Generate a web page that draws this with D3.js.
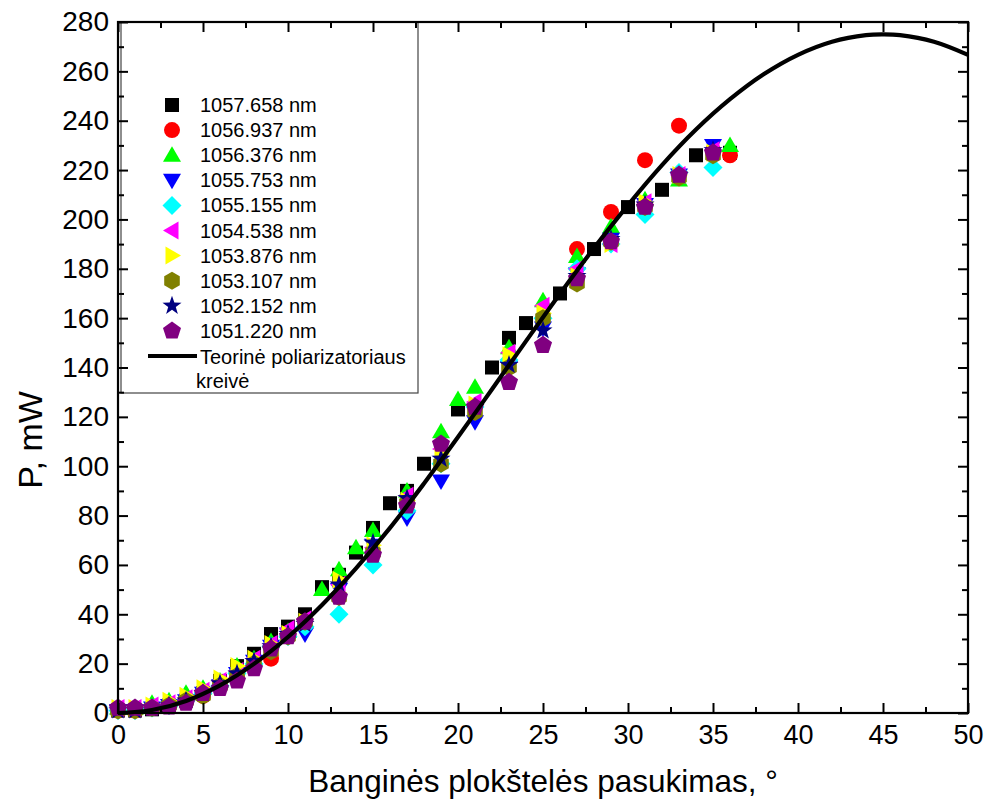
<!DOCTYPE html>
<html><head><meta charset="utf-8">
<script src="https://cdn.jsdelivr.net/npm/d3@7"></script>
<style>
html,body{margin:0;padding:0;background:#fff;}
svg{display:block;}
text{font-family:"Liberation Sans", Arial, sans-serif;fill:#000;}
</style></head><body>
<svg id="c" width="988" height="808"></svg>
<script>
const n = null;
const angles = [0,1,2,3,4,5,6,7,8,9,10,11,12,13,14,15,16,17,18,19,20,21,22,23,24,25,26,27,28,29,30,31,32,33,34,35,36];

const seriesNames = ["1057.658 nm","1056.937 nm","1056.376 nm","1055.753 nm","1055.155 nm","1054.538 nm","1053.876 nm","1053.107 nm","1052.152 nm","1051.220 nm"];
const seriesColors = ["#000000","#ff0000","#00ff00","#0000ff","#00ffff","#ff00ff","#ffff00","#808000","#000080","#800080"];
const seriesShapes = ["square","circle","triUp","triDown","diamond","triLeft","triRight","hexagon","star","pentagon"];

const s1057658 = [1,1,1.5,3,5,8,13,19,24,32,35,40,51,56,65,75,85,90,101,n,123,n,140,152,158,n,170,n,188,n,205,n,212,n,226,n,227];
const s1056937 = [1,1,2,3,5,7,11,15,19,22,n,n,n,n,n,n,n,n,n,n,n,n,n,n,n,n,n,188,n,203,n,224,n,238,n,228,226];
const s1056376 = [2,2,4,5,8,10,13,19,22,29,33,37,50,58,67,74,n,90,n,114,127,132,n,148,n,167,n,185,n,197,n,208,n,216,n,n,230];
const s1055753 = [1,1,2,3,5,8,11,16,21,27,32,32,n,50,n,68,n,79,n,94,n,118,n,140,n,156,n,178,n,192,n,206,n,218,n,230,n];
const s1055155 = [1,1,2,3,5,8,11,16,20,27,31,35,n,40,n,60,n,82,n,101,n,124,n,143,n,160,n,180,n,190,n,202,n,219,n,221,n];
const s1054538 = [2,2,3,4,6,9,13,17,22,28,34,38,n,52,n,67,n,88,n,107,n,126,n,146,n,165,n,180,n,190,n,207,n,218,n,228,n];
const s1053876 = [2,2,3,5,7,10,14,19,22,28,32,37,n,54,n,68,n,86,n,105,n,125,n,145,n,162,n,177,n,190,n,207,n,218,n,227,n];
const s1053107 = [1,1,2,3,5,7,11,15,20,25,31,37,n,47,n,65,n,85,n,101,n,122,n,140,n,160,n,174,n,191,n,205,n,217,n,226,n];
const s1052152 = [1,1,2,3,5,8,12,16,21,27,32,36,n,52,n,69,n,87,n,103,n,124,n,141,n,155,n,177,n,192,n,206,n,218,n,228,n];
const s1051220 = [2,2,2,2.5,4,8,10,13,18,26,31,37,n,47,n,64,n,84,n,109,n,124,n,134,n,149,n,176,n,191,n,205,n,218,n,227,n];
const seriesValues = [s1057658,s1056937,s1056376,s1055753,s1055155,s1054538,s1053876,s1053107,s1052152,s1051220];

const curveName = ["Teorinė poliarizatoriaus","kreivė"];
const curveAngles = [0,2,4,6,8,10,12,14,16,18,20,22,24,26,28,30,32,34,36,38,40,42,44,45,46,48,50];
const curveP = [0,1.2,4.9,11.2,19.9,30.8,43.8,58.6,75.0,93.0,111.8,131.2,150.7,169.9,188.4,205.8,222.0,236.4,248.7,258.9,266.7,272.0,274.7,275,274.7,272.0,266.7];

const xTicks = [0,5,10,15,20,25,30,35,40,45,50];
const xMinor = [2.5,7.5,12.5,17.5,22.5,27.5,32.5,37.5,42.5,47.5];
const yTicks = [0,20,40,60,80,100,120,140,160,180,200,220,240,260,280];
const yMinor = [10,30,50,70,90,110,130,150,170,190,210,230,250,270];
const xTitle = "Banginės plokštelės pasukimas, °";
const yTitle = "P, mW";

const L = 118, R = 968, T = 22, B = 713;
const svg = d3.select("#c");
const x = d3.scaleLinear().domain([0,50]).range([L,R]);
const y = d3.scaleLinear().domain([0,280]).range([B,T]);

function poly(pts){ return "M" + pts.map(p=>p[0].toFixed(2)+","+p[1].toFixed(2)).join("L") + "Z"; }
function reg(k, r, start){ const a=[]; for(let i=0;i<k;i++){const t=(start+360*i/k)*Math.PI/180; a.push([r*Math.cos(t), r*Math.sin(t)]);} return a; }
function shapePath(t){
  switch(t){
    case "square": return "M-7,-7H7V7H-7Z";
    case "circle": return d3.symbol(d3.symbolCircle, Math.PI*8*8)();
    case "triUp": return poly([[0,-9],[9,6.5],[-9,6.5]]);
    case "triDown": return poly([[0,9],[9,-6.5],[-9,-6.5]]);
    case "diamond": return poly([[0,-9.5],[9.5,0],[0,9.5],[-9.5,0]]);
    case "triLeft": return poly([[-9,0],[6.5,-9],[6.5,9]]);
    case "triRight": return poly([[9,0],[-6.5,-9],[-6.5,9]]);
    case "hexagon": return poly(reg(6, 9, -90));
    case "star": { const a=[]; for(let i=0;i<10;i++){const r=i%2?4:10; const t=(-90+36*i)*Math.PI/180; a.push([r*Math.cos(t), r*Math.sin(t)]);} return poly(a); }
    case "pentagon": return poly(reg(5, 9.5, -90));
  }
}

// legend background
svg.append("rect").attr("x",121).attr("y",T).attr("width",297).attr("height",371)
  .attr("fill","#fff").attr("stroke","#444").attr("stroke-width",1.2);

// data points
seriesValues.forEach((vals, si) => {
  const pts = angles.map((a,i)=>({a, v: vals[i]})).filter(d => d.v !== null);
  svg.append("g").selectAll("path").data(pts).join("path")
    .attr("d", shapePath(seriesShapes[si]))
    .attr("fill", seriesColors[si])
    .attr("transform", d => `translate(${x(d.a)},${y(d.v)})`);
});

// theoretical curve
const line = d3.line().x(d=>x(d[0])).y(d=>y(d[1])).curve(d3.curveCatmullRom.alpha(0.5));
svg.append("path").datum(curveAngles.map((a,i)=>[a,curveP[i]]))
  .attr("d", line).attr("fill","none").attr("stroke","#000").attr("stroke-width",4.2);

// axes
function styleAxis(g){ g.select(".domain").remove(); g.selectAll(".tick line").attr("stroke","#000").attr("stroke-width",2); }
svg.append("g").attr("transform",`translate(0,${B})`)
  .call(d3.axisBottom(x).tickValues(xTicks).tickSizeInner(-10).tickSizeOuter(0).tickPadding(12).tickFormat(d3.format("d")))
  .call(styleAxis)
  .call(g=>g.selectAll("text").attr("font-size",27).attr("font-family","Liberation Sans"));
svg.append("g").attr("transform",`translate(0,${B})`)
  .call(d3.axisBottom(x).tickValues(xMinor).tickSizeInner(-6).tickSizeOuter(0).tickFormat(""))
  .call(styleAxis);
svg.append("g").attr("transform",`translate(0,${T})`)
  .call(d3.axisTop(x).tickValues(xTicks).tickSizeInner(-10).tickSizeOuter(0).tickFormat(""))
  .call(styleAxis);
svg.append("g").attr("transform",`translate(0,${T})`)
  .call(d3.axisTop(x).tickValues(xMinor).tickSizeInner(-6).tickSizeOuter(0).tickFormat(""))
  .call(styleAxis);
svg.append("g").attr("transform",`translate(${L},0)`)
  .call(d3.axisLeft(y).tickValues(yTicks).tickSizeInner(-10).tickSizeOuter(0).tickPadding(9).tickFormat(d3.format("d")))
  .call(styleAxis)
  .call(g=>g.selectAll("text").attr("font-size",28).attr("font-family","Liberation Sans"));
svg.append("g").attr("transform",`translate(${L},0)`)
  .call(d3.axisLeft(y).tickValues(yMinor).tickSizeInner(-6).tickSizeOuter(0).tickFormat(""))
  .call(styleAxis);
svg.append("g").attr("transform",`translate(${R},0)`)
  .call(d3.axisRight(y).tickValues(yTicks).tickSizeInner(-10).tickSizeOuter(0).tickFormat(""))
  .call(styleAxis);
svg.append("g").attr("transform",`translate(${R},0)`)
  .call(d3.axisRight(y).tickValues(yMinor).tickSizeInner(-6).tickSizeOuter(0).tickFormat(""))
  .call(styleAxis);

// frame
svg.append("rect").attr("x",L).attr("y",T).attr("width",R-L).attr("height",B-T)
  .attr("fill","none").attr("stroke","#000").attr("stroke-width",2.2);

// axis titles
svg.append("text").attr("x",543).attr("y",792).attr("text-anchor","middle")
  .attr("font-size",31.5).text(xTitle);
svg.append("text").attr("transform","translate(42,440) rotate(-90)").attr("text-anchor","middle")
  .attr("font-size",34).text(yTitle);

// legend contents
const lg = svg.append("g");
seriesNames.forEach((name, i) => {
  const cy = 105 + i*25.1;
  lg.append("path").attr("d", shapePath(seriesShapes[i])).attr("fill", seriesColors[i])
    .attr("transform", `translate(172,${cy})`);
  lg.append("text").attr("x",200).attr("y",cy).attr("dy","0.35em").attr("font-size",20).text(name);
});
lg.append("line").attr("x1",148).attr("x2",197).attr("y1",356).attr("y2",356).attr("stroke","#000").attr("stroke-width",4.2);
lg.append("text").attr("x",200).attr("y",357).attr("dy","0.35em").attr("font-size",20).text(curveName[0]);
lg.append("text").attr("x",196).attr("y",381).attr("dy","0.35em").attr("font-size",20).text(curveName[1]);
</script>
</body></html>
